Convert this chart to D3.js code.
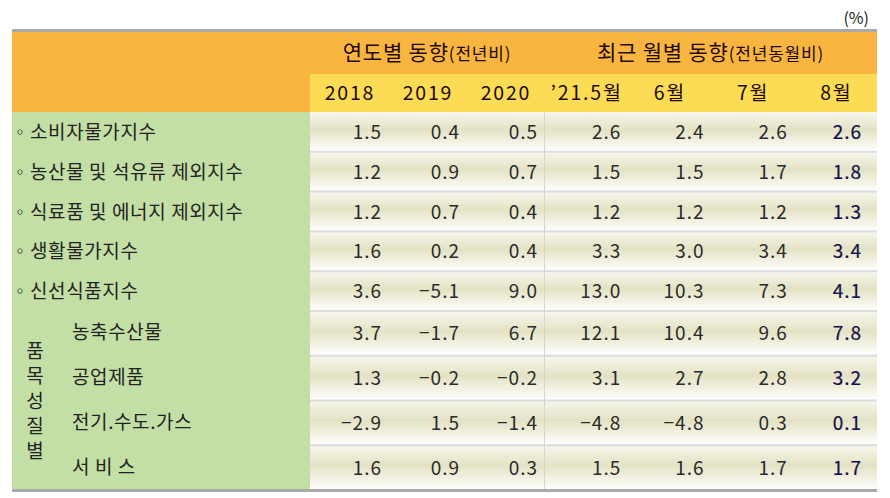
<!DOCTYPE html>
<html>
<head>
<meta charset="utf-8">
<script src="https://cdn.jsdelivr.net/npm/d3@7/dist/d3.min.js"></script>
<style>
  html, body { margin: 0; padding: 0; background: #ffffff; }
  svg { display: block; }
  text { font-family: "Noto Sans CJK KR", "Noto Sans", sans-serif; }
</style>
</head>
<body>
<svg id="chart" width="890" height="498"></svg>
<script>
// ---------- DATA ----------
const unitLabel = "(%)";
const groupHeaders = [
  { main: "연도별 동향", sub: "(전년비)", cols: ["2018", "2019", "2020"] },
  { main: "최근 월별 동향", sub: "(전년동월비)", cols: ["’21.5월", "6월", "7월", "8월"] }
];
const columns = ["2018", "2019", "2020", "’21.5월", "6월", "7월", "8월"];
const mainRows = ["소비자물가지수", "농산물 및 석유류 제외지수", "식료품 및 에너지 제외지수", "생활물가지수", "신선식품지수"];
const subGroupLabel = "품목성질별";
const subRows = ["농축수산물", "공업제품", "전기.수도.가스", "서 비 스"];
const v2018 = [1.5, 1.2, 1.2, 1.6, 3.6, 3.7, 1.3, -2.9, 1.6];
const v2019 = [0.4, 0.9, 0.7, 0.2, -5.1, -1.7, -0.2, 1.5, 0.9];
const v2020 = [0.5, 0.7, 0.4, 0.4, 9.0, 6.7, -0.2, -1.4, 0.3];
const vMay21 = [2.6, 1.5, 1.2, 3.3, 13.0, 12.1, 3.1, -4.8, 1.5];
const vJun21 = [2.4, 1.5, 1.2, 3.0, 10.3, 10.4, 2.7, -4.8, 1.6];
const vJul21 = [2.6, 1.7, 1.2, 3.4, 7.3, 9.6, 2.8, 0.3, 1.7];
const vAug21 = [2.6, 1.8, 1.3, 3.4, 4.1, 7.8, 3.2, 0.1, 1.7];
const series = [v2018, v2019, v2020, vMay21, vJun21, vJul21, vAug21];

// ---------- LAYOUT ----------
const svg = d3.select("#chart");
const L = 12, R = 877, labelW = 298;
const topBorder = 29, hdr1 = [32, 74], hdr2 = [74, 112], bodyTop = 112, split = 311, bodyBottom = 490;
const dataLeft = L + labelW;
const divider = 544;

const xYear = d3.scaleBand().domain(columns.slice(0, 3)).range([dataLeft, divider]);
const xMonth = d3.scaleBand().domain(columns.slice(3)).range([divider, R]);
const colX = c => columns.indexOf(c) < 3 ? xYear(c) : xMonth(c);
const colW = c => columns.indexOf(c) < 3 ? xYear.bandwidth() : xMonth.bandwidth();

const allRows = mainRows.concat(subRows);
const yMain = d3.scaleBand().domain(d3.range(0, mainRows.length)).range([bodyTop, split]);
const ySub = d3.scaleBand().domain(d3.range(mainRows.length, allRows.length)).range([split, bodyBottom]);
const rowY = i => i < mainRows.length ? yMain(i) : ySub(i);
const rowH = i => i < mainRows.length ? yMain.bandwidth() : ySub.bandwidth();

const fmt = d3.format(".1f");

const defs = svg.append("defs");
const grad = defs.append("linearGradient").attr("id", "cellGrad").attr("x1", 0).attr("x2", 0).attr("y1", 0).attr("y2", 1);
grad.append("stop").attr("offset", "0%").attr("stop-color", "#f7f7ee");
grad.append("stop").attr("offset", "45%").attr("stop-color", "#e4e2c4");
grad.append("stop").attr("offset", "100%").attr("stop-color", "#ffffff");

svg.append("rect").attr("x", L).attr("y", hdr1[0]).attr("width", R - L).attr("height", hdr2[1] - hdr1[0]).attr("fill", "#f8b540");
svg.append("rect").attr("x", dataLeft).attr("y", hdr2[0]).attr("width", R - dataLeft).attr("height", hdr2[1] - hdr2[0]).attr("fill", "#fcdc55");
svg.append("rect").attr("x", L).attr("y", topBorder).attr("width", R - L).attr("height", 3).attr("fill", "#aaaaaa");

svg.append("rect").attr("x", L).attr("y", bodyTop).attr("width", labelW).attr("height", bodyBottom - bodyTop).attr("fill", "#c4dfa5");

svg.append("g").selectAll("rect").data(allRows).join("rect")
  .attr("x", dataLeft).attr("y", (d, i) => rowY(i))
  .attr("width", R - dataLeft).attr("height", (d, i) => rowH(i))
  .attr("fill", "url(#cellGrad)");

svg.append("g").selectAll("rect").data(allRows.slice(1)).join("rect")
  .attr("x", dataLeft).attr("y", (d, i) => rowY(i + 1) - 1)
  .attr("width", R - dataLeft).attr("height", 2)
  .attr("fill", "#dcdcdc");

svg.append("rect").attr("x", divider).attr("y", bodyTop).attr("width", 1).attr("height", bodyBottom - bodyTop).attr("fill", "#d4d4d4");

svg.append("rect").attr("x", L).attr("y", bodyBottom - 1).attr("width", R - L).attr("height", 3).attr("fill", "#aaaaaa");

svg.append("text").attr("x", 869).attr("y", 24).attr("text-anchor", "end")
  .attr("font-size", 16).attr("fill", "#222").text(unitLabel);

const groupRanges = [[dataLeft, divider], [divider, R]];
groupHeaders.forEach((g, gi) => {
  const cx = (groupRanges[gi][0] + groupRanges[gi][1]) / 2;
  const t = svg.append("text").attr("x", cx).attr("y", 60).attr("text-anchor", "middle")
    .attr("font-weight", 400).attr("fill", "#1e0800").attr("letter-spacing", 0.8);
  t.append("tspan").attr("font-size", 21).text(g.main);
  t.append("tspan").attr("font-size", 17).text(g.sub);
});

svg.append("g").selectAll("text").data(columns).join("text")
  .attr("x", c => colX(c) + colW(c) / 2 + 1)
  .attr("y", (hdr2[0] + hdr2[1]) / 2 + 7)
  .attr("text-anchor", "middle")
  .attr("font-size", 19.5).attr("letter-spacing", 1.8).attr("fill", "#1e0800")
  .text(c => c);

const mainG = svg.append("g");
mainG.selectAll("text.bullet").data(mainRows).join("text").attr("class", "bullet")
  .attr("x", 12).attr("y", (d, i) => rowY(i) + rowH(i) / 2 + 6)
  .attr("font-size", 16).attr("fill", "#222").text("◦");
mainG.selectAll("text.lab").data(mainRows).join("text").attr("class", "lab")
  .attr("x", 30).attr("y", (d, i) => rowY(i) + rowH(i) / 2 + 7)
  .attr("font-size", 19).attr("letter-spacing", 0.6).attr("fill", "#222").text(d => d);

svg.append("g").selectAll("text").data(subRows).join("text")
  .attr("x", 72).attr("y", (d, i) => rowY(i + mainRows.length) + rowH(i + mainRows.length) / 2 + 6)
  .attr("font-size", 19).attr("letter-spacing", 0.6).attr("fill", "#222").text(d => d);

const chars = Array.from(subGroupLabel);
const vCenter = (split + bodyBottom) / 2;
svg.append("g").selectAll("text").data(chars).join("text")
  .attr("x", 35).attr("y", (d, i) => vCenter + (i - (chars.length - 1) / 2) * 25 + 7)
  .attr("text-anchor", "middle").attr("font-size", 19).attr("fill", "#222").text(d => d);

const cellData = [];
series.forEach((vals, ci) => vals.forEach((v, ri) => cellData.push({ c: columns[ci], ci, ri, v })));
const last = columns.length - 1;
svg.append("g").selectAll("text").data(cellData).join("text")
  .attr("x", d => colX(d.c) + colW(d.c) - (d.ci === last ? 16 : 7) + 1)
  .attr("y", d => rowY(d.ri) + rowH(d.ri) / 2 + 7)
  .attr("text-anchor", "end")
  .attr("font-size", 19)
  .attr("letter-spacing", 1)
  .attr("font-weight", 400)
  .attr("fill", d => d.ci === last ? "#10104a" : "#2a2a2a")
  .attr("stroke", d => d.ci === last ? "#10104a" : "none")
  .attr("stroke-width", 0.2)
  .text(d => fmt(d.v));
</script>
</body>
</html>
